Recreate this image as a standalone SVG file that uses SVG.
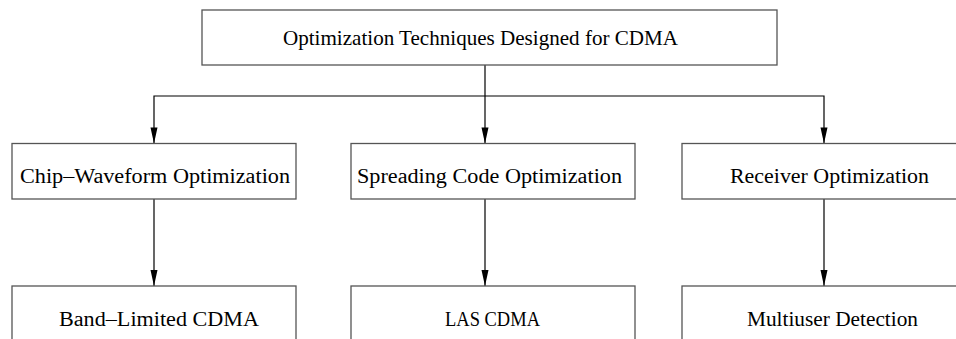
<svg xmlns="http://www.w3.org/2000/svg" width="956" height="339" viewBox="0 0 956 339">
<style>
.box{fill:#fff;stroke:#555;stroke-width:1.3}
.lbl{font-family:"Liberation Serif","Times New Roman",serif;fill:#000}
.t1{font-size:21px}
.t2{font-size:20px}
.t3{font-size:20px}
.ln{fill:none;stroke:#000;stroke-width:1.2}
</style>
<rect width="956" height="339" fill="#fff"/>
<g id="connectors">
<line class="ln" x1="485" y1="65" x2="485" y2="143"/>
<polyline class="ln" points="154,143 154,96 824,96 824,143"/>
<line class="ln" x1="154" y1="199" x2="154" y2="286"/>
<line class="ln" x1="485" y1="199" x2="485" y2="286"/>
<line class="ln" x1="824" y1="199" x2="824" y2="286"/>
<path d="M485,143.5 l-3.5,-16 h7 z M154,143.5 l-3.5,-16 h7 z M824,143.5 l-3.5,-16 h7 z M154,286 l-3.5,-16 h7 z M485,286 l-3.5,-16 h7 z M824,286 l-3.5,-16 h7 z" fill="#000"/>
</g>
<g id="n-root">
<rect class="box" x="202" y="10" width="575" height="55"/>
<text class="lbl t1" x="283" y="45" textLength="395" lengthAdjust="spacingAndGlyphs">Optimization Techniques Designed for CDMA</text>
</g>
<g id="n-chip">
<rect class="box" x="12" y="143.5" width="284" height="55.5"/>
<text class="lbl t2" x="20" y="183" textLength="270" lengthAdjust="spacingAndGlyphs">Chip–Waveform Optimization</text>
</g>
<g id="n-spread">
<rect class="box" x="351" y="143.5" width="284" height="55.5"/>
<text class="lbl t2" x="357" y="183" textLength="265" lengthAdjust="spacingAndGlyphs">Spreading Code Optimization</text>
</g>
<g id="n-recv">
<rect class="box" x="682" y="143.5" width="284" height="55.5"/>
<text class="lbl t2" x="730" y="183" textLength="199" lengthAdjust="spacingAndGlyphs">Receiver Optimization</text>
</g>
<g id="n-band">
<rect class="box" x="12" y="286" width="284" height="70"/>
<text class="lbl t3" x="59" y="326" textLength="200" lengthAdjust="spacingAndGlyphs">Band–Limited CDMA</text>
</g>
<g id="n-las">
<rect class="box" x="351" y="286" width="284" height="70"/>
<text class="lbl t3" x="445" y="326" textLength="95" lengthAdjust="spacingAndGlyphs">LAS CDMA</text>
</g>
<g id="n-mud">
<rect class="box" x="682" y="286" width="284" height="70"/>
<text class="lbl t3" x="747" y="326" textLength="171" lengthAdjust="spacingAndGlyphs">Multiuser Detection</text>
</g>
</svg>
